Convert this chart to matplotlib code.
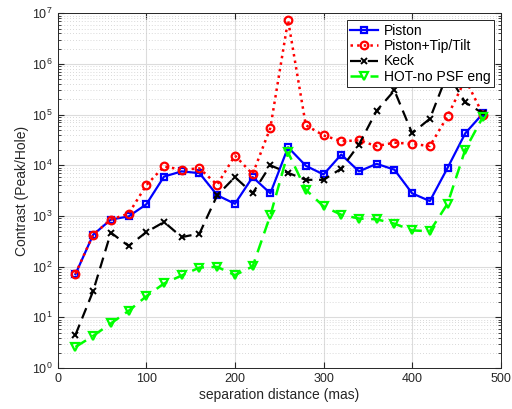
import numpy as np
import matplotlib
matplotlib.use("Agg")
import matplotlib.pyplot as plt
from matplotlib.ticker import LogLocator, NullFormatter, MultipleLocator

plt.rcParams['font.family'] = ['Liberation Sans', 'DejaVu Sans']
plt.rcParams['mathtext.fontset'] = 'custom'
plt.rcParams['mathtext.rm'] = 'Liberation Sans'
plt.rcParams['mathtext.it'] = 'Liberation Sans:italic'

# separation distance (mas)
sep = [20, 40, 60, 80, 100, 120, 140, 160, 180, 200, 220, 240,
       260, 280, 300, 320, 340, 360, 380, 400, 420, 440, 460, 480]

piston = [71, 427, 850, 980, 1700, 6000, 7600, 7000, 2570, 1740, 5860, 2800,
          22700, 9800, 6600, 16300, 7600, 10700, 8200, 2800, 1970, 8900, 43000, 106000]

piston_tt = [72, 430, 850, 1110, 4050, 9500, 8200, 8700, 4130, 15600, 6700, 55000,
             7.3e6, 62000, 39000, 30000, 31000, 24000, 28000, 26500, 24000, 93000, 5e5, 1e5]

keck = [4.5, 33, 470, 256, 480, 760, 383, 450, 2560, 5850, 2800, 10000,
        7100, 5170, 5170, 8600, 25700, 120000, 3e5, 43000, 83000, 6.5e5, 174000, 106000]

hot = [2.6, 4.3, 7.6, 13.4, 26, 46.6, 67, 96, 99, 68, 101, 1030,
       18000, 3300, 1550, 1060, 890, 860, 705, 520, 500, 1750, 20500, 91000]

fig = plt.figure(figsize=(5.12, 4.09), dpi=100)
ax = fig.add_axes([0.1127, 0.1002, 0.8653, 0.8673])

ax.semilogy(sep, piston, '-s', color='blue', lw=1.6, ms=4.5, mfc='none', mew=1.6, label='Piston')
ax.semilogy(sep, piston_tt, ':o', color='red', lw=1.8, ms=5.5, mfc='none', mew=1.6, label='Piston+Tip/Tilt')
ax.semilogy(sep, keck, '--x', color='black', lw=1.6, ms=5, mew=1.4, label='Keck', dashes=(5, 3))
ax.semilogy(sep, hot, '--v', color=(0, 1, 0), lw=1.8, ms=5.5, mfc='none', mew=1.6,
            label='HOT-no PSF eng', dashes=(5, 3))

ax.set_xlim(0, 500)
ax.set_ylim(1, 1e7)
ax.xaxis.set_major_locator(MultipleLocator(100))
ax.yaxis.set_major_locator(LogLocator(base=10, numticks=10))
ax.yaxis.set_minor_locator(LogLocator(base=10, subs=np.arange(2, 10), numticks=20))
ax.yaxis.set_minor_formatter(NullFormatter())

ax.grid(True, which='major', color='#dcdcdc', lw=0.8)
ax.grid(True, which='minor', axis='y', color='#cccccc', lw=0.6, ls=(0, (1, 2.5)))
ax.set_axisbelow(True)

ax.tick_params(which='both', direction='in', top=True, right=True, colors='#262626',
               labelsize=9, labelcolor='#262626')
ax.tick_params(which='major', length=4)
ax.tick_params(which='minor', length=2)
for s in ax.spines.values():
    s.set_color('#262626')
    s.set_linewidth(0.7)

ax.set_xlabel('separation distance (mas)', fontsize=10, color='#262626', labelpad=2)
ax.set_ylabel('Contrast (Peak/Hole)', fontsize=10, color='#262626', labelpad=2)

leg = ax.legend(loc='upper right', fontsize=10, fancybox=False, framealpha=1,
                edgecolor='#262626', handlelength=2.0, handletextpad=0.4,
                borderpad=0.25, labelspacing=0.1, borderaxespad=0.5)
leg.get_frame().set_linewidth(0.7)

fig.savefig('out.png', dpi=100)
